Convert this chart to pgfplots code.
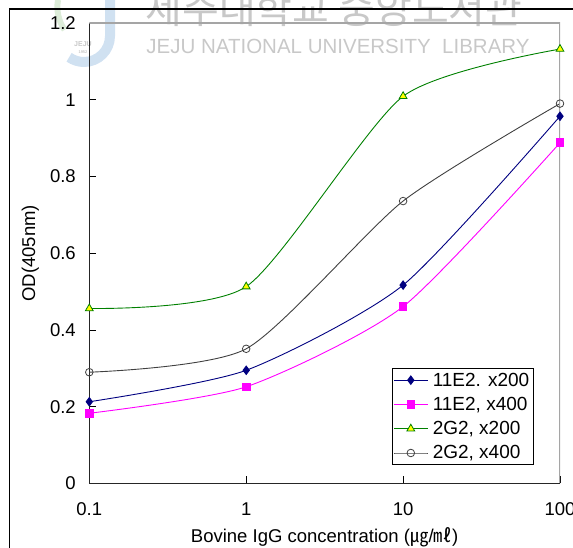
\documentclass[border=0pt]{standalone}
\usepackage{pgfplots}
\pgfplotsset{compat=1.18}
\usepackage{fontspec}
\setmainfont{Liberation Sans}
\newfontfamily\cjk{Noto Sans CJK KR}

\definecolor{cNavy}{RGB}{0,0,128}
\definecolor{cMagenta}{RGB}{255,0,255}
\definecolor{cGreen}{RGB}{0,128,0}
\definecolor{cYellow}{RGB}{255,255,0}
\definecolor{cDark}{RGB}{64,64,64}
\definecolor{cFrame}{RGB}{165,165,165}
\definecolor{cMark}{RGB}{200,200,200}
\definecolor{cLogo}{RGB}{170,200,230}
\definecolor{cLogoG}{RGB}{205,228,200}

\begin{document}
\begin{tikzpicture}
\useasboundingbox (0pt,0pt) rectangle (573pt,548pt);

% library watermark: emblem and name
\draw[cLogoG, line width=6pt, opacity=0.7] (58pt,548pt) arc[start angle=170, end angle=215, radius=40pt];
\draw[cLogo, line width=10pt, opacity=0.55] (110pt,550pt) -- (110pt,512pt)
  arc[start angle=0, end angle=-125, radius=26pt];
\node[text=cMark, font=\fontsize{7}{8}\selectfont\bfseries, align=center] at (83pt,500pt) {JEJU\\[-1pt]{\fontsize{4}{5}\selectfont 1952}};
\node[text=cMark, font=\cjk\fontsize{40}{42}\selectfont, anchor=base] at (334pt,524pt) {제주대학교 중앙도서관};
\node[text=cMark, font=\fontsize{20.5}{22}\selectfont, anchor=base] at (338pt,494pt) {JEJU NATIONAL UNIVERSITY\ \ LIBRARY};

% outer frame
\draw[black, line width=1.2pt] (9.5pt,0pt) -- (9.5pt,539pt) -- (573pt,539pt);

\begin{axis}[
  at={(89.3pt,64.5pt)}, anchor=south west,
  scale only axis, width=470.7pt, height=460.5pt,
  xmode=log, xmin=0.1, xmax=100, ymin=0, ymax=1.2,
  axis lines=left,
  axis line style={-, line width=1pt, draw=black!85},
  xtick={0.1,1,10,100}, xticklabels={0.1,1,10,100},
  ytick={0,0.2,...,1.2},
  xminorticks=false,
  tick align=inside,
  major tick length=7pt,
  tick style={line width=0.8pt, black},
  /pgf/number format/assume math mode=true,
  tick label style={font=\fontsize{18.5}{22}\selectfont},
  xticklabel style={yshift=-16pt},
  yticklabel style={xshift=-10pt},
  label style={font=\fontsize{18.5}{22}\selectfont},
  xlabel={Bovine IgG concentration ({\cjk ㎍}/{\cjk ㎖})},
  ylabel={OD(405nm)},
  xlabel style={at={(axis description cs:0.5,-0.117)}, anchor=center},
  ylabel style={at={(axis description cs:-0.125,0.5)}, anchor=center},
  legend style={at={(axis description cs:0.643,0.251)}, anchor=north west,
    draw=black, line width=0.8pt, font=\fontsize{19}{22}\selectfont,
    inner sep=1.5pt, row sep=3.5pt,
    nodes={inner sep=3pt}},
  legend cell align=left,
  legend image code/.code={\draw[mark repeat=2, mark phase=2, #1]
    plot coordinates {(0pt,0pt) (16.5pt,0pt) (33pt,0pt)};},
  every axis plot/.append style={line width=0.9pt, smooth, tension=0.4},
]
\addplot[cNavy, mark=diamond*, mark size=4.2pt, mark options={fill=cNavy, draw=cNavy}]
  coordinates {(0.1,0.213) (1,0.295) (10,0.517) (100,0.957)};
\addlegendentry{\hspace{2pt}11E2. x200\hspace{8pt}}
\addplot[cMagenta, mark=square*, mark size=3.8pt, mark options={fill=cMagenta, draw=cMagenta}]
  coordinates {(0.1,0.183) (1,0.252) (10,0.461) (100,0.888)};
\addlegendentry{\hspace{2pt}11E2, x400\hspace{8pt}}
\addplot[cGreen, mark=triangle*, mark size=4.5pt, mark options={fill=cYellow, draw=cGreen, line width=0.8pt}]
  coordinates {(0.1,0.456) (1,0.513) (10,1.009) (100,1.132)};
\addlegendentry{\hspace{2pt}2G2, x200\hspace{8pt}}
\addplot[cDark, mark=o, mark size=3.8pt, mark options={fill=white, draw=cDark, line width=0.8pt}]
  coordinates {(0.1,0.290) (1,0.351) (10,0.736) (100,0.990)};
\addlegendentry{\hspace{2pt}2G2, x400\hspace{8pt}}
% upper and right edges of the plot box
\draw[cFrame, line width=1.3pt] (rel axis cs:0,1) -- (rel axis cs:1,1) -- (rel axis cs:1,0);
\end{axis}
\end{tikzpicture}
\end{document}
